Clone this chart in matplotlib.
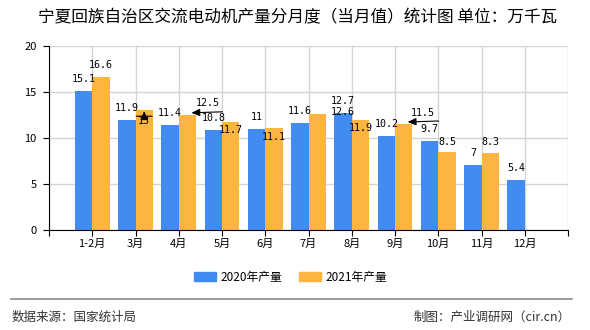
import matplotlib
matplotlib.use('Agg')
import matplotlib.pyplot as plt
from matplotlib.patches import Patch
from matplotlib.transforms import Affine2D

plt.rcParams['font.family'] = ['Noto Sans CJK SC', 'DejaVu Sans']

# data (万千瓦)
months = ['1-2月', '3月', '4月', '5月', '6月', '7月', '8月', '9月', '10月', '11月', '12月']
output_2020 = [15.1, 11.9, 11.4, 10.8, 11, 11.6, 12.7, 10.2, 9.7, 7, 5.4]
output_2021 = [16.6, 13, 12.5, 11.7, 11.1, 12.6, 11.9, 11.5, 8.5, 8.3]

blue = '#418cf0'
orange = '#fdb441'

fig = plt.figure(figsize=(5.9, 3.3), dpi=100)
ax = fig.add_axes([49/590, 1-229.5/330, 519/590, 183.5/330])

x20 = [i - 0.2 for i in range(len(output_2020))]
x21 = [i + 0.2 for i in range(len(output_2021))]
ax.bar(x20, output_2020, width=0.4, color=blue, zorder=2)
ax.bar(x21, output_2021, width=0.4, color=orange, zorder=2)

ax.set_xlim(-1, len(months))
ax.set_ylim(0, 20)
ax.set_yticks([0, 5, 10, 15, 20])
ax.set_xticks(range(len(months)))
ax.set_xticklabels(months)
ax.set_xticks([-1, len(months)], minor=True)
ax.tick_params(axis='both', which='both', length=4, width=0.8, labelsize=8, color='black')
ax.tick_params(axis='x', pad=3)
ax.tick_params(axis='y', pad=5)

ax.grid(True, which='both', color='#d4d4d4', lw=1, zorder=0)
for s in ['top', 'right']:
    ax.spines[s].set_visible(False)
ax.spines['left'].set_linewidth(0.8)
ax.spines['bottom'].set_linewidth(0.8)


def shift(dx, dy):
    # offset in display pixels from a data point
    return ax.transData + Affine2D().translate(dx, dy)


# label offsets in pixels (dx, dy), default is centred just above the bar
off20 = [(0, 12)] * len(output_2020)
off21 = [(0, 12), (0, -11), (20, 12), (0, -8), (0, -9), (26, 2), (0, -8), (19, 11), (0, 10), (0, 11)]

lab_kw = dict(textcoords='offset pixels', ha='center', va='center', fontsize=7.2,
              family='DejaVu Sans Mono', zorder=4)
for x, v, o in zip(x20, output_2020, off20):
    ax.annotate(f'{v:g}', xy=(x, v), xytext=o, **lab_kw)
for x, v, o in zip(x21, output_2021, off21):
    ax.annotate(f'{v:g}', xy=(x, v), xytext=o, **lab_kw)

# leader lines for the moved labels
arrow = '-|>,head_length=0.5,head_width=0.22'
line_kw = dict(lw=0.8, color='black', shrinkA=0, shrinkB=0)
x, v = x21[1], output_2021[1]
ax.annotate('', xy=(x, v), xycoords=shift(8, -6), xytext=(x, v), textcoords=shift(-8, -6),
            arrowprops=dict(arrowstyle='-', **line_kw), zorder=5)
ax.annotate('', xy=(x, v), xycoords=shift(0, -1), xytext=(x, v), textcoords=shift(0, -6),
            arrowprops=dict(arrowstyle=arrow, **line_kw), zorder=5)
for k in [2, 7]:
    x, v = x21[k], output_2021[k]
    ax.annotate('', xy=(x, v), xycoords=shift(4, 2), xytext=(x, v), textcoords=shift(35, 3),
                arrowprops=dict(arrowstyle=arrow, **line_kw), zorder=5)

fig.text(0.505, 1-18/330, '宁夏回族自治区交流电动机产量分月度（当月值）统计图 单位：万千瓦',
         ha='center', va='center', fontsize=12)

handles = [Patch(color=blue, label='2020年产量'), Patch(color=orange, label='2021年产量')]
fig.legend(handles=handles, loc='center', bbox_to_anchor=(0.492, 1-277/330), ncol=2,
           frameon=False, fontsize=8.5, handlelength=1.9, handleheight=0.8,
           handletextpad=0.35, columnspacing=1.4)

fig.add_artist(plt.Line2D([11/590, 572/590], [1-299/330, 1-299/330], color='#8a8a8a', lw=1.2))
fig.text(12/590, 1-317/330, '数据来源：国家统计局', ha='left', va='center', fontsize=9, color='#333333')
fig.text(571/590, 1-317/330, '制图：产业调研网（cir.cn）', ha='right', va='center', fontsize=9, color='#333333')

fig.savefig('out.png', dpi=100, facecolor='white')
